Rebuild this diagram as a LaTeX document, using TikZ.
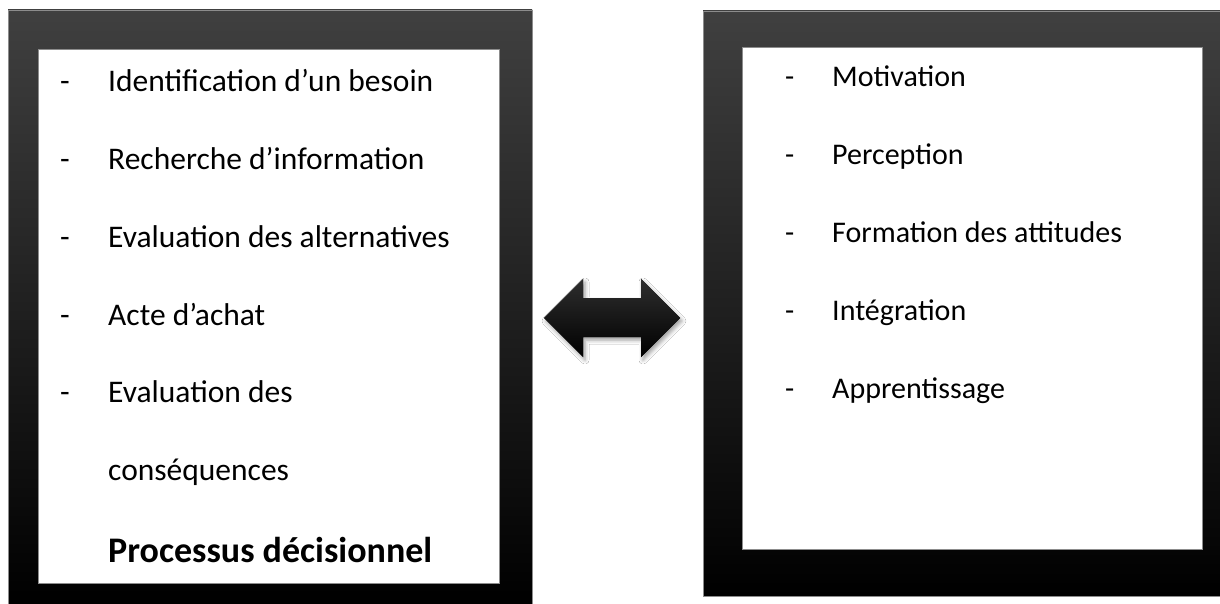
\documentclass[tikz,border=0pt]{standalone}
\usepackage{fontspec}
\setmainfont{Carlito}
\usetikzlibrary{shadows.blur}
\begin{document}
\begin{tikzpicture}[x=1pt,y=-1pt,
  framebody/.style={top color=black!75, middle color=black, bottom color=black},
  frameedge/.style={draw=black!45, line width=0.8pt},
  panel/.style={fill=white, draw=black!45, line width=0.8pt},
  item/.style={anchor=base west, inner sep=0pt, font=\fontsize{31.5}{38}\selectfont},
  ritem/.style={anchor=base west, inner sep=0pt, font=\fontsize{30}{36}\selectfont},
  title/.style={anchor=base west, inner sep=0pt, font=\fontsize{36}{42}\selectfont\bfseries}]
\useasboundingbox (0,0) rectangle (1220,604);
\fill[white] (0,0) rectangle (1220,604);

% left frame
\shade[framebody] (8,10) rectangle (532,604);
\draw[frameedge] (8,604) -- (8,10) -- (532,10) -- (532,604);
\filldraw[panel] (38,49) rectangle (499,583);

% right frame
\shade[framebody] (703,11) rectangle (1220,596);
\draw[frameedge] (703,596) -- (703,11) -- (1220,11);
\draw[frameedge] (703,596) -- (1220,596);
\filldraw[panel] (742,47) rectangle (1202,549);

% double arrow between the frames, with a soft drop shadow
\path[fill=black, blur shadow={shadow xshift=2pt, shadow yshift=-3pt,
    shadow blur radius=4pt, shadow opacity=40}]
  (544,318) -- (583,279) -- (583,298) -- (641,298) -- (641,279) -- (680,318)
  -- (641,357) -- (641,337) -- (583,337) -- (583,357) -- cycle;
\shade[top color=black!82, middle color=black, bottom color=black]
  (544,318) -- (583,279) -- (583,298) -- (641,298) -- (641,279) -- (680,318)
  -- (641,357) -- (641,337) -- (583,337) -- (583,357) -- cycle;

% decision process steps
\node[item] (d1) at (60,92) {-};
\node[item] (l1) at (108,92) {Identification d’un besoin};
\node[item] (d2) at (60,170) {-};
\node[item] (l2) at (108,170) {Recherche d’information};
\node[item] (d3) at (60,247) {-};
\node[item] (l3) at (108,247) {Evaluation des alternatives};
\node[item] (d4) at (60,325) {-};
\node[item] (l4) at (108,325) {Acte d’achat};
\node[item] (d5) at (60,402) {-};
\node[item] (l5) at (108,402) {Evaluation des};
\node[item] (l6) at (108,480) {conséquences};
\node[title] (lt) at (108,562) {Processus décisionnel};

% psychological processes
\node[ritem] (e1) at (785,87) {-};
\node[ritem] (r1) at (832,87) {Motivation};
\node[ritem] (e2) at (785,165) {-};
\node[ritem] (r2) at (832,165) {Perception};
\node[ritem] (e3) at (785,242) {-};
\node[ritem] (r3) at (832,242) {Formation des attitudes};
\node[ritem] (e4) at (785,320) {-};
\node[ritem] (r4) at (832,320) {Intégration};
\node[ritem] (e5) at (785,398) {-};
\node[ritem] (r5) at (832,398) {Apprentissage};
\end{tikzpicture}
\end{document}
